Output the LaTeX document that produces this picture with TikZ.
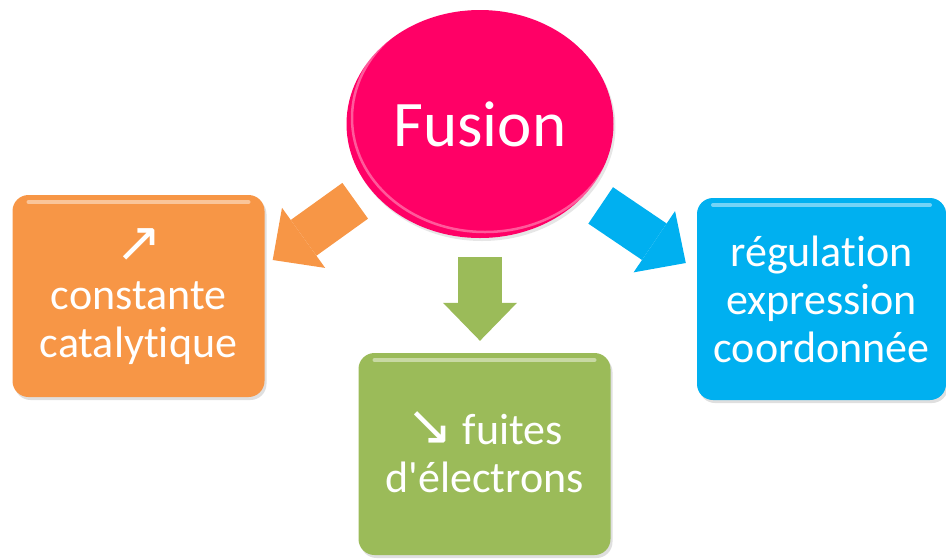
\documentclass[tikz,border=0pt]{standalone}
\usepackage{fontspec}
\setmainfont{Carlito}[Ligatures={TeXOff,NoCommon}]
\newfontfamily\arrowfont{DejaVu Sans}
\usetikzlibrary{shapes.geometric, arrows.meta, shadows}

\definecolor{fusionpink}{HTML}{FF0066}
\definecolor{boxorange}{HTML}{F79646}
\definecolor{boxgreen}{HTML}{9BBB59}
\definecolor{boxblue}{HTML}{00B0F0}

\newcommand{\bigsym}[1]{\smash{\arrowfont\fontsize{56}{48}\selectfont #1}}

\begin{document}
\begin{tikzpicture}[
    x=1pt, y=-1pt,
    text=white,
    every node/.style={align=center, inner sep=0pt},
    bubble/.style={
        ellipse,
        fill=fusionpink,
        minimum width=267pt, minimum height=228pt,
        font=\fontsize{65}{70}\selectfont,
        drop shadow={opacity=0.2, shadow xshift=2pt, shadow yshift=-3pt},
        path picture={
            \draw[white, opacity=0.35, line width=2.5pt]
                ([xshift=5pt, yshift=6pt]path picture bounding box.center)
                ellipse [x radius=133pt, y radius=114pt];
        }
    },
    topic/.style={
        rounded corners=16pt,
        fill=#1,
        minimum width=252pt, minimum height=202pt,
        font=\fontsize{44}{48}\selectfont,
        drop shadow={opacity=0.25, shadow xshift=2pt, shadow yshift=-3pt},
        path picture={
            \draw[white, opacity=0.45, line width=4pt, line cap=round]
                ([xshift=16pt, yshift=-7pt]path picture bounding box.north west)
                -- ([xshift=-16pt, yshift=-7pt]path picture bounding box.north east);
        }
    },
    bigarrow/.style={
        draw=#1,
        line width=44pt,
        -{Triangle[length=38pt, width=74pt, line width=0pt]},
        shorten <=19pt
    },
]

  % nodes
  \node[bubble] (fusion) at (480,124) {Fusion};

  \node[topic=boxorange] (constante) at (138.5,296)
    {\bigsym{↗}\strut\\constante\\catalytique};
  \node[topic=boxgreen] (fuites) at (484.5,454)
    {\bigsym{↘} fuites\\d'électrons};
  \node[topic=boxblue, minimum width=249pt] (regulation) at (821.5,299)
    {régulation\\expression\\coordonnée};

  % arrows
  \draw[bigarrow=boxorange] (fusion.211) -- ([shift={(8,-36)}]constante.east);
  \draw[bigarrow=boxgreen, shorten >=12pt] (fusion.south) -- (fusion.south |- fuites.north);
  \draw[bigarrow=boxblue] (fusion.-34) -- ([shift={(-11,-36)}]regulation.west);

  \useasboundingbox (0,0) rectangle (946,558);
\end{tikzpicture}
\end{document}
